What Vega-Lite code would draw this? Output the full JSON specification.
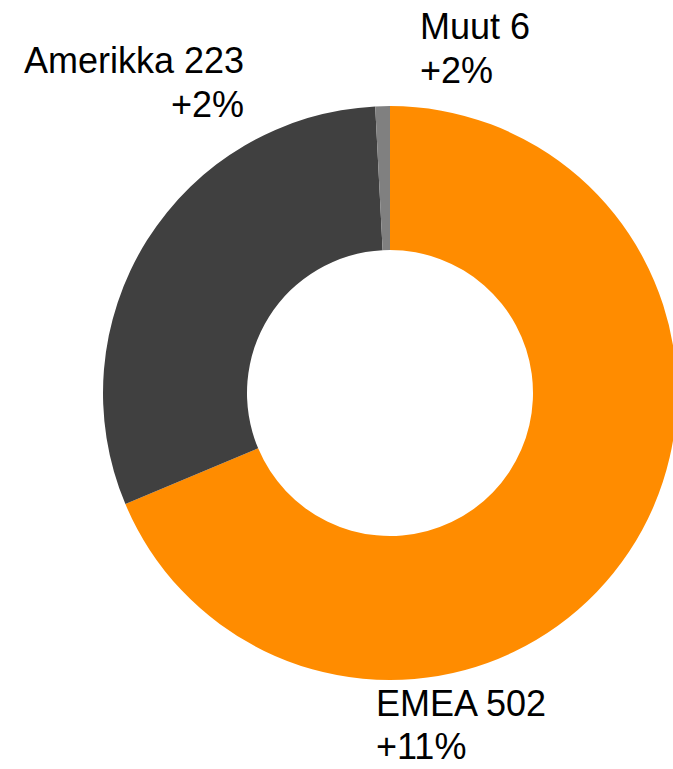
{
  "$schema": "https://vega.github.io/schema/vega-lite/v6.json",
  "width": 566,
  "height": 752,
  "autosize": {"type": "none"},
  "padding": {"left": 107, "top": 17, "right": 0, "bottom": 0},
  "background": "white",
  "config": {"view": {"stroke": null}},
  "data": {"values": [
    {"region": "EMEA", "value": 502, "change": "+11%", "rank": 1},
    {"region": "Amerikka", "value": 223, "change": "+2%", "rank": 2},
    {"region": "Muut", "value": 6, "change": "+2%", "rank": 3}
  ]},
  "transform": [{"calculate": "datum.region + ' ' + datum.value + '\\n' + datum.change", "as": "label"}],
  "layer": [
    {
      "mark": {"type": "arc", "outerRadius": 287, "innerRadius": 143},
      "encoding": {
        "theta": {"field": "value", "type": "quantitative", "stack": true},
        "order": {"field": "rank", "type": "quantitative"},
        "color": {"field": "region", "type": "nominal",
          "scale": {"domain": ["EMEA", "Amerikka", "Muut"], "range": ["#FF8C00", "#404040", "#808080"]},
          "legend": null}
      }
    },
    {
      "transform": [{"filter": "datum.region === 'Muut'"}],
      "mark": {"type": "text", "align": "left", "baseline": "alphabetic", "lineBreak": "\n", "lineHeight": 44, "font": "Liberation Sans", "fontSize": 36, "color": "black", "dx": 30, "dy": -354},
      "encoding": {"text": {"field": "label"}}
    },
    {
      "transform": [{"filter": "datum.region === 'Amerikka'"}],
      "mark": {"type": "text", "align": "right", "baseline": "alphabetic", "lineBreak": "\n", "lineHeight": 44, "font": "Liberation Sans", "fontSize": 36, "color": "black", "dx": -146, "dy": -320},
      "encoding": {"text": {"field": "label"}}
    },
    {
      "transform": [{"filter": "datum.region === 'EMEA'"}],
      "mark": {"type": "text", "align": "left", "baseline": "alphabetic", "lineBreak": "\n", "lineHeight": 43, "font": "Liberation Sans", "fontSize": 36, "color": "black", "dx": -14, "dy": 323},
      "encoding": {"text": {"field": "label"}}
    }
  ]
}
